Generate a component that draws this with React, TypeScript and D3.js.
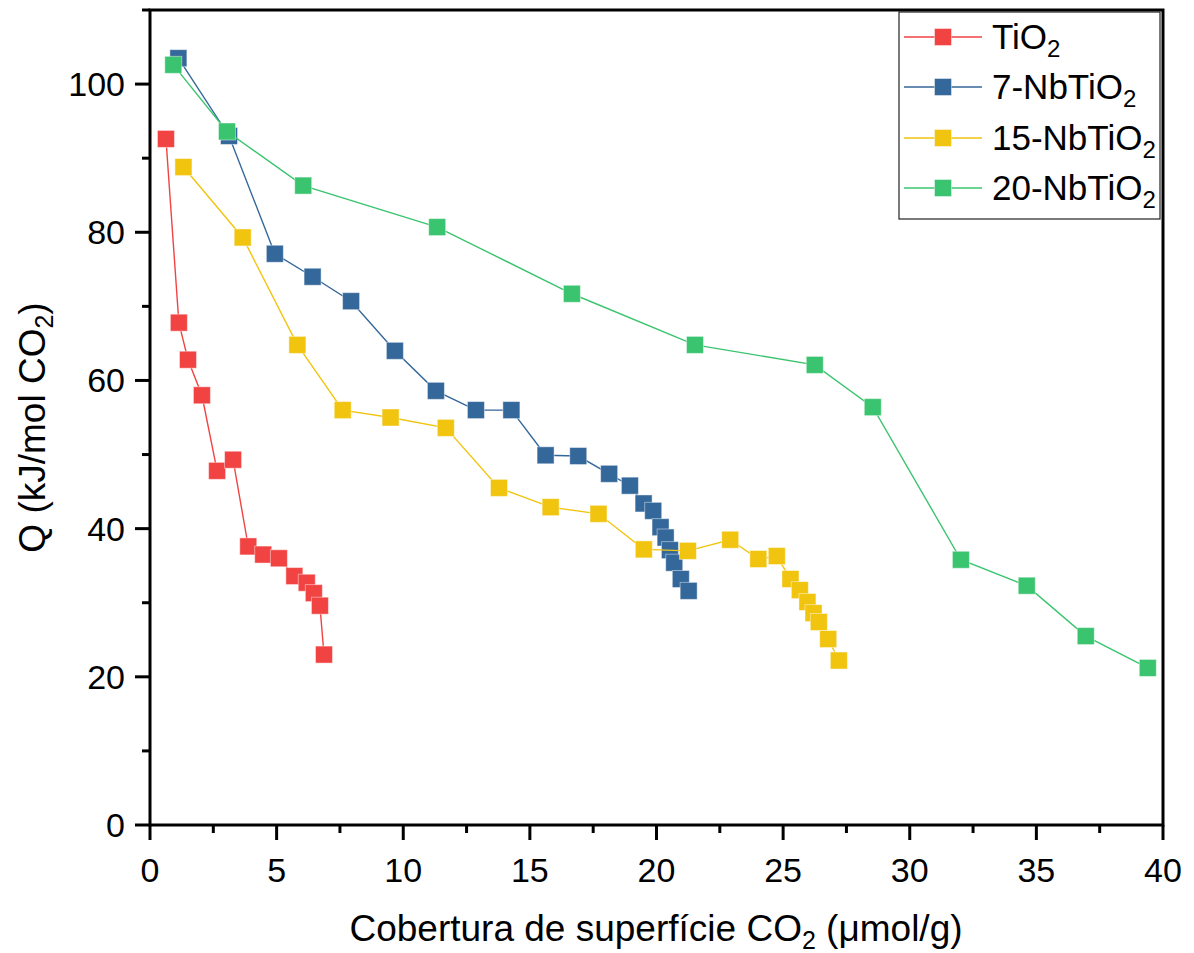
import React from "react";
import * as d3 from "d3";

const seriesNames = ["TiO2", "7-NbTiO2", "15-NbTiO2", "20-NbTiO2"];
const seriesPrefix = ["TiO", "7-NbTiO", "15-NbTiO", "20-NbTiO"];
const seriesColors = ["#F24343", "#34679A", "#F1C40F", "#3AC46F"];

const tio2X = [0.63, 1.14, 1.5, 2.05, 2.65, 3.28, 3.88, 4.47, 5.09, 5.7, 6.19, 6.47, 6.71, 6.87];
const tio2Q = [92.6, 67.8, 62.8, 58.0, 47.8, 49.3, 37.6, 36.5, 36.0, 33.6, 32.7, 31.3, 29.6, 23.0];

const nb7X = [1.12, 3.12, 4.93, 6.42, 7.94, 9.67, 11.29, 12.87, 14.27, 15.62, 16.91, 18.13, 18.95, 19.49, 19.87, 20.16, 20.36, 20.53, 20.7, 20.96, 21.27];
const nb7Q = [103.5, 93.0, 77.1, 74.0, 70.7, 64.0, 58.6, 56.0, 56.0, 49.9, 49.8, 47.4, 45.8, 43.4, 42.4, 40.2, 38.8, 37.1, 35.4, 33.2, 31.6];

const nb15X = [1.32, 3.66, 5.82, 7.61, 9.5, 11.68, 13.78, 15.82, 17.71, 19.5, 21.24, 22.91, 24.02, 24.75, 25.29, 25.66, 25.96, 26.2, 26.41, 26.78, 27.2];
const nb15Q = [88.8, 79.3, 64.8, 56.0, 55.0, 53.6, 45.5, 42.9, 42.0, 37.2, 37.0, 38.5, 35.9, 36.3, 33.2, 31.7, 30.1, 28.6, 27.4, 25.1, 22.2];

const nb20X = [0.92, 3.04, 6.05, 11.34, 16.66, 21.52, 26.25, 28.54, 32.02, 34.62, 36.95, 39.4];
const nb20Q = [102.6, 93.6, 86.3, 80.7, 71.7, 64.8, 62.1, 56.4, 35.8, 32.3, 25.5, 21.2];

const seriesX = [tio2X, nb7X, nb15X, nb20X];
const seriesQ = [tio2Q, nb7Q, nb15Q, nb20Q];

const xMajorTicks = [0, 5, 10, 15, 20, 25, 30, 35, 40];
const xMinorTicks = [2.5, 7.5, 12.5, 17.5, 22.5, 27.5, 32.5, 37.5];
const yMajorTicks = [0, 20, 40, 60, 80, 100];
const yMinorTicks = [10, 30, 50, 70, 90, 110];

const FONT = "'Liberation Sans', Arial, Helvetica, sans-serif";

export default function App() {
  const left = 150, right = 1163, top = 10, bottom = 825;
  const x = d3.scaleLinear().domain([0, 40]).range([left, right]);
  const y = d3.scaleLinear().domain([0, 110]).range([bottom, top]);
  const line = d3.line<[number, number]>().x(d => x(d[0])).y(d => y(d[1]));
  const ms = 17;

  const legendX = 899, legendY = 12, legendW = 261, legendH = 207;
  const rowY = [37, 87, 138, 188];

  return (
    <svg width={1194} height={953} style={{ position: "absolute", left: 0, top: 0, background: "#fff" }}
      fontFamily={FONT}>
      <rect x={0} y={0} width={1194} height={953} fill="#fff" />
      {seriesX.map((xs, si) => {
        const pts: [number, number][] = xs.map((v, i) => [v, seriesQ[si][i]]);
        return (
          <g key={si}>
            <path d={line(pts) || ""} fill="none" stroke={seriesColors[si]} strokeWidth={1.4} />
            {pts.map((p, i) => (
              <rect key={i} x={x(p[0]) - ms / 2} y={y(p[1]) - ms / 2} width={ms} height={ms}
                fill={seriesColors[si]} stroke="#ffffff" strokeOpacity={0.45} strokeWidth={1} />
            ))}
          </g>
        );
      })}
      <rect x={left} y={top} width={right - left} height={bottom - top} fill="none" stroke="#000" strokeWidth={3} />
      {xMajorTicks.map(t => (
        <g key={"xm" + t}>
          <line x1={x(t)} x2={x(t)} y1={bottom} y2={bottom + 15} stroke="#000" strokeWidth={3} />
          <text x={x(t)} y={882} textAnchor="middle" fontSize={34}>{t}</text>
        </g>
      ))}
      {xMinorTicks.map(t => (
        <line key={"xn" + t} x1={x(t)} x2={x(t)} y1={bottom} y2={bottom + 8} stroke="#000" strokeWidth={3} />
      ))}
      {yMajorTicks.map(t => (
        <g key={"ym" + t}>
          <line x1={left - 15} x2={left} y1={y(t)} y2={y(t)} stroke="#000" strokeWidth={3} />
          <text x={125} y={y(t) + 12} textAnchor="end" fontSize={34}>{t}</text>
        </g>
      ))}
      {yMinorTicks.map(t => (
        <line key={"yn" + t} x1={left - 8} x2={left} y1={y(t)} y2={y(t)} stroke="#000" strokeWidth={3} />
      ))}
      <text x={656} y={941} textAnchor="middle" fontSize={37}>
        Cobertura de superfície CO<tspan fontSize={25} dy={8}>2</tspan><tspan dy={-8}> (μmol/g)</tspan>
      </text>
      <text transform={`translate(45,${(top + bottom) / 2 + 10}) rotate(-90)`} textAnchor="middle" fontSize={37}>
        Q (kJ/mol CO<tspan fontSize={25} dy={8}>2</tspan><tspan dy={-8}>)</tspan>
      </text>
      <rect x={legendX} y={legendY} width={legendW} height={legendH} fill="#fff" stroke="#222" strokeWidth={1.2} />
      {seriesNames.map((n, i) => (
        <g key={n}>
          <line x1={904} x2={982} y1={rowY[i]} y2={rowY[i]} stroke={seriesColors[i]} strokeWidth={1.4} />
          <rect x={943 - ms / 2} y={rowY[i] - ms / 2} width={ms} height={ms} fill={seriesColors[i]}
            stroke="#fff" strokeOpacity={0.45} strokeWidth={1} />
          <text x={992} y={rowY[i] + 12} fontSize={35}>
            {seriesPrefix[i]}<tspan fontSize={24} dy={8}>2</tspan>
          </text>
        </g>
      ))}
    </svg>
  );
}
